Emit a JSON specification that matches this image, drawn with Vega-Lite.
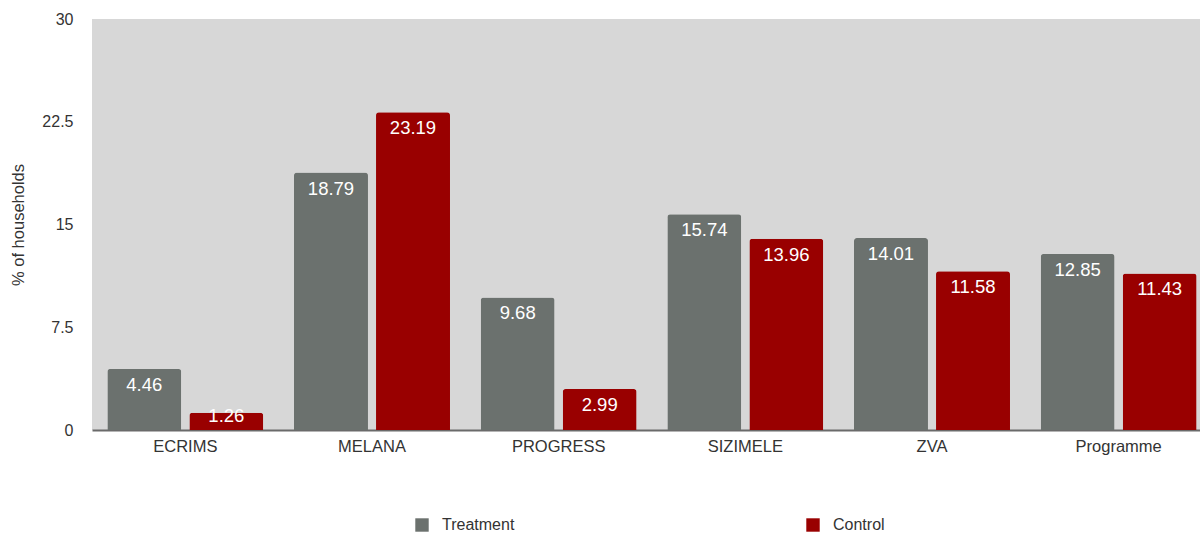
{
  "$schema": "https://vega.github.io/schema/vega-lite/v6.json",
  "autosize": {"type": "none"},
  "padding": {"left": 92, "top": 19, "right": 0, "bottom": 103},
  "width": 1108,
  "height": 411,
  "background": "white",
  "config": {
    "view": {"fill": "#d7d7d7", "stroke": null},
    "font": "Liberation Sans"
  },
  "data": {
    "values": [
      {"site": "ECRIMS", "group": "Treatment", "value": 4.46},
      {"site": "ECRIMS", "group": "Control", "value": 1.26},
      {"site": "MELANA", "group": "Treatment", "value": 18.79},
      {"site": "MELANA", "group": "Control", "value": 23.19},
      {"site": "PROGRESS", "group": "Treatment", "value": 9.68},
      {"site": "PROGRESS", "group": "Control", "value": 2.99},
      {"site": "SIZIMELE", "group": "Treatment", "value": 15.74},
      {"site": "SIZIMELE", "group": "Control", "value": 13.96},
      {"site": "ZVA", "group": "Treatment", "value": 14.01},
      {"site": "ZVA", "group": "Control", "value": 11.58},
      {"site": "Programme", "group": "Treatment", "value": 12.85},
      {"site": "Programme", "group": "Control", "value": 11.43}
    ]
  },
  "encoding": {
    "x": {
      "field": "site", "type": "nominal",
      "sort": ["ECRIMS", "MELANA", "PROGRESS", "SIZIMELE", "ZVA", "Programme"],
      "scale": {"range": [0, 1120], "paddingInner": 0, "paddingOuter": 0},
      "axis": {
        "title": null, "labelAngle": 0, "ticks": false,
        "domainColor": "#6a6a6a", "domainWidth": 2,
        "labelFontSize": 16.5, "labelColor": "#333333", "labelPadding": 8
      }
    },
    "xOffset": {
      "field": "group", "type": "nominal",
      "sort": ["Treatment", "Control"],
      "scale": {"paddingInner": 0.098, "paddingOuter": 0.187}
    },
    "y": {
      "field": "value", "type": "quantitative",
      "scale": {"domain": [0, 30], "nice": false},
      "axis": {
        "values": [0, 7.5, 15, 22.5, 30], "format": ".1~f", "grid": false, "domain": false, "ticks": false,
        "labelFontSize": 16, "labelColor": "#333333", "labelPadding": 19,
        "title": "% of households", "titleFontSize": 16.5, "titleFontWeight": "normal",
        "titleColor": "#333333", "titleX": -66, "titlePadding": 0
      }
    }
  },
  "layer": [
    {
      "mark": {"type": "bar", "cornerRadiusTopLeft": 3, "cornerRadiusTopRight": 3},
      "encoding": {
        "color": {
          "field": "group", "type": "nominal",
          "sort": ["Treatment", "Control"],
          "scale": {"domain": ["Treatment", "Control"], "range": ["#6b716e", "#990000"]},
          "legend": {
            "title": null, "orient": "none", "direction": "horizontal",
            "legendX": 322, "legendY": 498,
            "symbolType": "square", "symbolSize": 180, "symbolStrokeWidth": 0,
            "labelFontSize": 16, "labelColor": "#333333", "labelOffset": 12,
            "columnPadding": 290
          }
        }
      }
    },
    {
      "transform": [{"filter": "datum.value >= 2"}],
      "mark": {"type": "text", "color": "white", "baseline": "top", "dy": 7, "fontSize": 18.5},
      "encoding": {"text": {"field": "value", "type": "quantitative", "format": ".2f"}}
    },
    {
      "transform": [{"filter": "datum.value < 2"}],
      "mark": {"type": "text", "color": "white", "baseline": "top", "dy": -6, "fontSize": 18.5},
      "encoding": {"text": {"field": "value", "type": "quantitative", "format": ".2f"}}
    }
  ]
}
